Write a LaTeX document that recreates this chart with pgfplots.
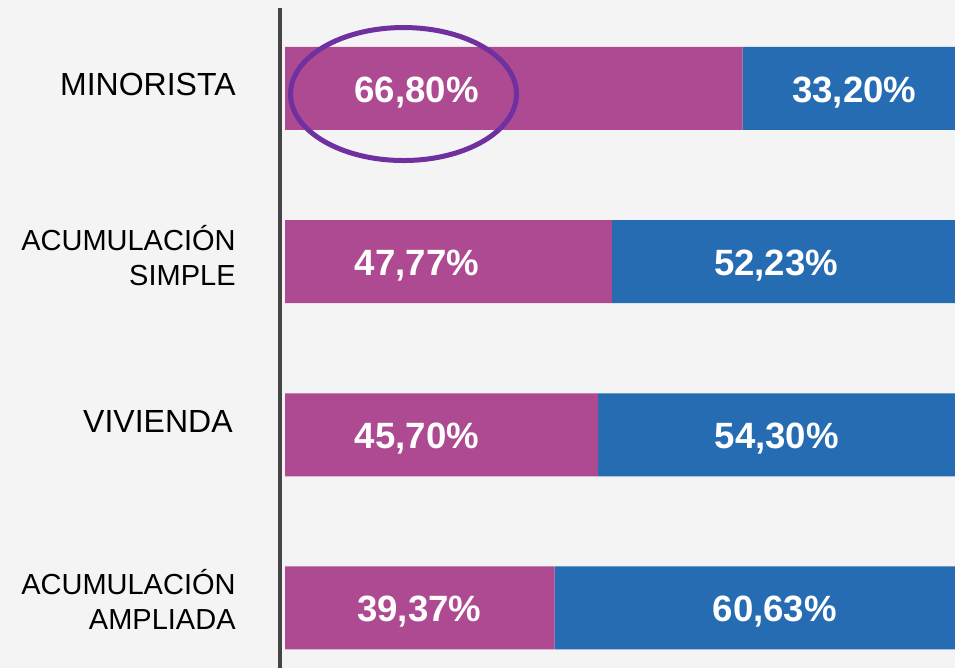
\documentclass[border=0pt]{standalone}
\usepackage{pgfplots}
\pgfplotsset{compat=1.18}
\usepackage{fontspec}
\setmainfont{Liberation Sans}
\definecolor{bgcol}{RGB}{244,244,244}
\definecolor{mag}{RGB}{173,74,146}
\definecolor{blu}{RGB}{38,108,178}
\definecolor{ell}{RGB}{112,48,160}
\definecolor{axl}{RGB}{68,68,68}
\begin{document}
\begin{tikzpicture}
\fill[bgcol] (0,0) rectangle (477.5pt,334pt);
\useasboundingbox (0,0) rectangle (477.5pt,334pt);
\begin{axis}[
  at={(140pt,0pt)}, anchor=south west,
  scale only axis, width=337.5pt, height=330pt,
  xbar stacked, bar width=41.5pt,
  xmin=-0.73, xmax=97.81,
  ymin=-0.4649, ymax=3.3465, y dir=reverse,
  axis x line=none,
  axis y line=left,
  y axis line style={draw=axl, line width=2.3pt, -},
  ytick=\empty, xtick=\empty,
  clip mode=individual,
]
\addplot[fill=mag, draw=none] coordinates {(66.80,0) (47.77,1) (45.70,2) (39.37,3)};
\addplot[fill=blu, draw=none] coordinates {(33.20,0) (52.23,1) (54.30,2) (60.63,3)};

\coordinate (c0) at (axis cs:-0.73,-0.023);
\coordinate (c1) at (axis cs:-0.73,0.965);
\coordinate (c2) at (axis cs:-0.73,1.922);
\coordinate (c3) at (axis cs:-0.73,2.948);
\coordinate (a0) at (axis cs:19.2,0);
\coordinate (b0) at (axis cs:83.1,0);
\coordinate (a1) at (axis cs:19.27,1);
\coordinate (b1) at (axis cs:71.7,1);
\coordinate (a2) at (axis cs:19.27,2);
\coordinate (b2) at (axis cs:71.8,2);
\coordinate (a3) at (axis cs:19.6,3);
\coordinate (b3) at (axis cs:71.5,3);
\coordinate (e0) at (axis cs:17.3,0.032);
\end{axis}

% category labels
\node[anchor=east, inner sep=0pt, font=\fontsize{16}{19}\selectfont] at ([xshift=-22pt]c0) {MINORISTA};
\node[anchor=east, inner sep=0pt, align=right, font=\fontsize{14.5}{17.5}\selectfont] at ([xshift=-22pt]c1) {ACUMULACIÓN\\SIMPLE};
\node[anchor=east, inner sep=0pt, font=\fontsize{16}{19}\selectfont] at ([xshift=-23.5pt]c2) {VIVIENDA};
\node[anchor=east, inner sep=0pt, align=right, font=\fontsize{14.5}{17.5}\selectfont] at ([xshift=-22pt]c3) {ACUMULACIÓN\\AMPLIADA};

% value labels
\tikzset{val/.style={anchor=base, inner sep=0pt, text=white, font=\bfseries\fontsize{18.3}{22}\selectfont, yshift=-6.8pt}}
\node[val] at (a0) {66,80\%};
\node[val] at (b0) {33,20\%};
\node[val] at (a1) {47,77\%};
\node[val] at (b1) {52,23\%};
\node[val] at (a2) {45,70\%};
\node[val] at (b2) {54,30\%};
\node[val] at (a3) {39,37\%};
\node[val] at (b3) {60,63\%};

% highlight ellipse
\draw[ell, line width=2.5pt] (e0) ellipse [x radius=56.5pt, y radius=33.25pt];
\end{tikzpicture}
\end{document}
